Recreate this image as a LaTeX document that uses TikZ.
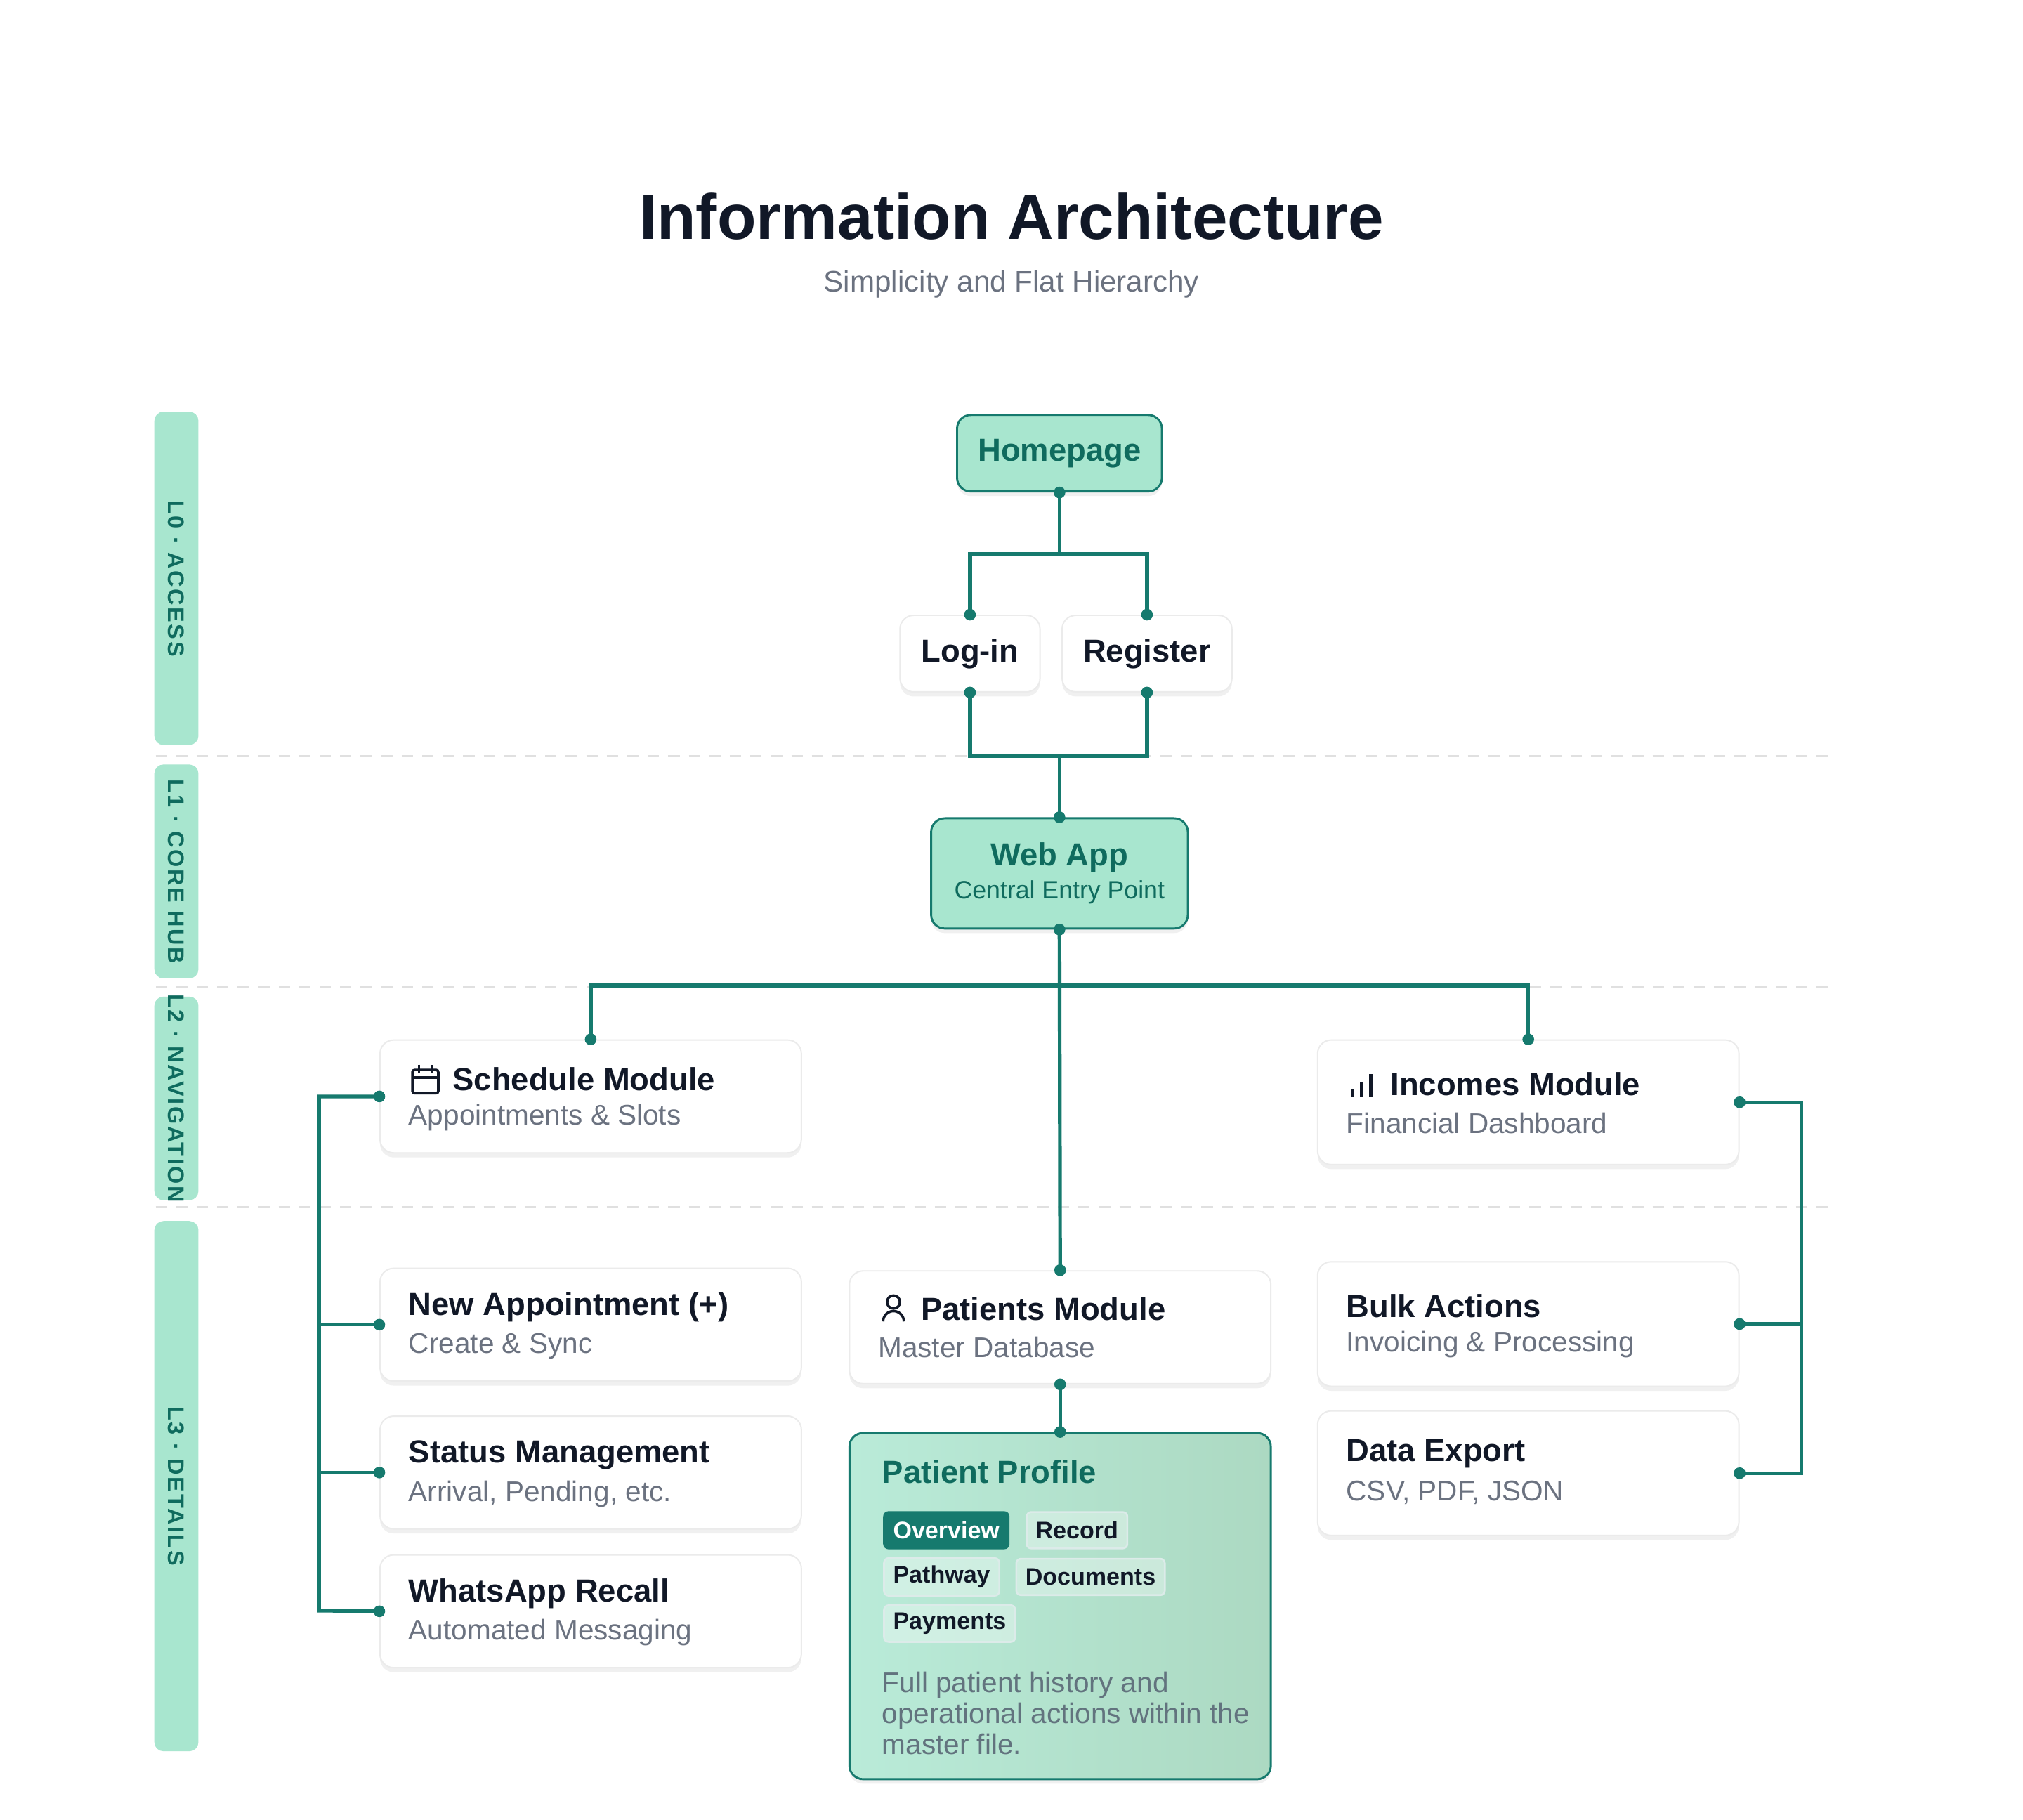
\documentclass[tikz,border=0pt]{standalone}
\usepackage{fontspec}
\setmainfont{Liberation Sans}
\usetikzlibrary{shadows}
\definecolor{tealline}{HTML}{167A6E}
\definecolor{tealtext}{HTML}{0F6B5E}
\definecolor{mint}{HTML}{A8E6CF}
\definecolor{mintdark}{HTML}{ACD9C2}
\definecolor{inkdark}{HTML}{111827}
\definecolor{inkgray}{HTML}{6B7280}
\tikzset{
  box/.style={draw=black!8, fill=white, rounded corners=6pt, line width=0.6pt,
    drop shadow={shadow xshift=0pt, shadow yshift=-2pt, opacity=0.06, fill=black}},
  hub/.style={draw=tealline, fill=mint, rounded corners=6pt, line width=0.9pt,
    drop shadow={shadow xshift=0pt, shadow yshift=-2pt, opacity=0.06, fill=black}},
  link/.style={draw=tealline, line width=1.6pt},
  dot/.style={fill=tealline},
  band/.style={fill=mint, rounded corners=4pt, minimum width=0.68cm},
  bandtext/.style={rotate=-90, text=tealtext, font=\fontsize{10}{12}\selectfont\bfseries\addfontfeature{LetterSpace=8}},
  ttl/.style={anchor=west, text=inkdark, font=\fontsize{14}{16}\selectfont\bfseries},
  sub/.style={anchor=west, text=inkgray, font=\fontsize{12.5}{14}\selectfont},
  tab/.style={draw=white!85!tealline, fill=white, fill opacity=0.35, text opacity=1, rounded corners=2pt,
    line width=0.8pt, anchor=west, inner xsep=4pt, minimum height=0.56cm, text=inkdark,
    font=\fontsize{10.5}{12}\selectfont\bfseries}
}
\begin{document}
\begin{tikzpicture}[x=0.02cm, y=-0.02cm]
	\useasboundingbox[fill=white] (0,0) rectangle (1560,1403);
	\node[text=inkdark, font=\fontsize{28}{32}\selectfont\bfseries] (title) at (780,167) {Information Architecture};
	\node[text=inkgray, font=\fontsize{13}{16}\selectfont] (subtitle) at (780,219) {Simplicity and Flat Hierarchy};
	% level bands
	\draw[black!12, dashed, line width=1pt, dash pattern=on 5pt off 4pt] (120,583)--(1415,583);
	\draw[black!12, dashed, line width=1pt, dash pattern=on 5pt off 4pt] (120,761)--(1415,761);
	\draw[black!12, dashed, line width=1pt, dash pattern=on 5pt off 4pt] (120,931)--(1415,931);
	\node[band, minimum height=5.14cm] (b0) at (136,446) {};
	\node[band, minimum height=3.30cm] (b1) at (136,672) {};
	\node[band, minimum height=3.14cm] (b2) at (136,847) {};
	\node[band, minimum height=8.18cm] (b3) at (136,1146) {};
	\node[bandtext] at (b0) {L0 · ACCESS};
	\node[bandtext] at (b1) {L1 · CORE HUB};
	\node[bandtext] at (b2) {L2 · NAVIGATION};
	\node[bandtext] at (b3) {L3 · DETAILS};
	% nodes
	\node[hub, minimum width=3.16cm, minimum height=1.18cm, text=tealtext, font=\fontsize{14}{16}\selectfont\bfseries] (home) at (817,349.5) {Homepage};
	\node[box, minimum width=2.16cm, minimum height=1.18cm, text=inkdark, font=\fontsize{14}{16}\selectfont\bfseries] (login) at (748,504) {Log-in};
	\node[box, minimum width=2.62cm, minimum height=1.18cm, text=inkdark, font=\fontsize{14}{16}\selectfont\bfseries] (register) at (884.5,504) {Register};
	\node[hub, minimum width=3.96cm, minimum height=1.70cm] (webapp) at (817,673.5) {};
	\node[text=tealtext, font=\fontsize{14}{16}\selectfont\bfseries] at (817,661) {Web App};
	\node[text=tealtext, font=\fontsize{11}{13}\selectfont] at (817,688) {Central Entry Point};
	\node[box, minimum width=6.5cm, minimum height=1.74cm] (sched) at (455.5,845.5) {};
	\node[box, minimum width=6.5cm, minimum height=1.92cm] (income) at (1178.5,850) {};
	\node[box, minimum width=6.5cm, minimum height=1.74cm] (newap) at (455.5,1021.5) {};
	\node[box, minimum width=6.5cm, minimum height=1.74cm] (status) at (455.5,1135.5) {};
	\node[box, minimum width=6.5cm, minimum height=1.74cm] (whats) at (455.5,1242.5) {};
	\node[box, minimum width=6.5cm, minimum height=1.74cm] (patients) at (817.5,1023.5) {};
	\node[box, minimum width=6.5cm, minimum height=1.92cm] (bulk) at (1178.5,1021) {};
	\node[box, minimum width=6.5cm, minimum height=1.92cm] (export) at (1178.5,1136) {};
	\node[hub, minimum width=6.5cm, minimum height=5.34cm, left color=mint!80!white, right color=mintdark] (profile) at (817.5,1238.5) {};
	% texts
	\node[ttl] at (343,832) {Schedule Module};
	\node[sub] at (309,862) {Appointments \& Slots};
	\node[ttl] at (1066,836) {Incomes Module};
	\node[sub] at (1032,866) {Financial Dashboard};
	\node[ttl] at (309,1008) {New Appointment (+)};
	\node[sub] at (309,1038) {Create \& Sync};
	\node[ttl] at (309,1122) {Status Management};
	\node[sub] at (309,1152) {Arrival, Pending, etc.};
	\node[ttl] at (309,1229) {WhatsApp Recall};
	\node[sub] at (309,1259) {Automated Messaging};
	\node[ttl] at (704,1009) {Patients Module};
	\node[sub] at (671,1039) {Master Database};
	\node[ttl] at (1032,1007) {Bulk Actions};
	\node[sub] at (1032,1037) {Invoicing \& Processing};
	\node[ttl] at (1032,1121) {Data Export};
	\node[sub] at (1032,1151) {CSV, PDF, JSON};
	\node[ttl, text=tealtext] at (674,1135) {Patient Profile};
	\node[tab, fill=tealline, fill opacity=1, draw=tealline, text=white] (tover) at (681,1180) {Overview};
	\node[tab] (trec) at (791,1180) {Record};
	\node[tab] (tpath) at (681,1216) {Pathway};
	\node[tab] (tdoc) at (783,1216) {Documents};
	\node[tab] (tpay) at (681,1252) {Payments};
	\node[sub, text=inkgray!90!tealline, align=left, font=\fontsize{12.5}{13.6}\selectfont] at (674,1321) {Full patient history and\\operational actions within the\\master file.};
	% icons
	\draw[inkdark, line width=1.1pt, rounded corners=1pt] (318,825) rectangle (338,843);
	\draw[inkdark, line width=1.1pt] (318,831)--(338,831) (323,821)--(323,827) (333,821)--(333,827);
	\draw[inkdark, line width=1.3pt] (1043,846)--(1043,840) (1050,846)--(1050,834) (1057,846)--(1057,828);
	\draw[inkdark, line width=1.1pt] (689,1004) circle (5);
	\draw[inkdark, line width=1.1pt] (681,1019) arc (180:360:8);
	% connectors
	\coordinate (j0) at (817,427);
	\coordinate (j1) at (817,583);
	\coordinate (j2) at (817,760);
	\coordinate (lb) at (246,1242);
	\coordinate (rb) at (1389,1136);
	\draw[link] (home.south) -- (j0) -| (login.north);
	\draw[link] (j0) -| (register.north);
	\draw[link] (login.south) |- (j1) -| (register.south);
	\draw[link] (j1) -- (webapp.north);
	\draw[link] (webapp.south) -- (patients.north);
	\draw[link] (j2) -| (sched.north);
	\draw[link] (j2) -| (income.north);
	\draw[link] (patients.south) -- (profile.north);
	\draw[link] (sched.west) -| (lb) -- (whats.west);
	\draw[link] (newap.west) -- (newap.west -| lb);
	\draw[link] (status.west) -- (status.west -| lb);
	\draw[link] (income.east) -| (rb) -- (export.east);
	\draw[link] (bulk.east) -- (bulk.east -| rb);
	% dots
	\foreach \p in {home.south, login.north, register.north, login.south, register.south, webapp.north, webapp.south,
	  sched.north, income.north, patients.north, patients.south, profile.north, sched.west, newap.west, status.west,
	  whats.west, income.east, bulk.east, export.east}
	  \fill[dot] (\p) circle (4.5);
\end{tikzpicture}
\end{document}
